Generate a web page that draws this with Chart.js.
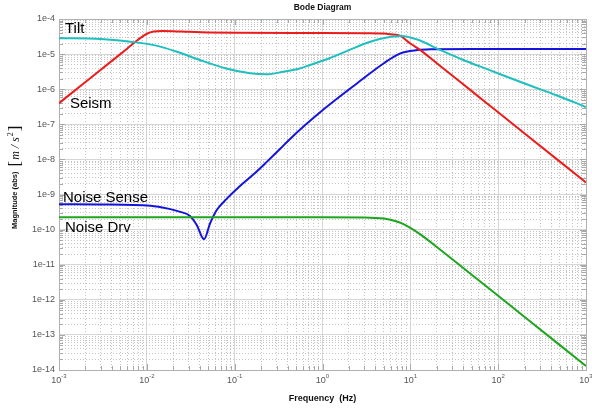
<!DOCTYPE html>
<html>
<head>
<meta charset="utf-8">
<script src="https://cdn.jsdelivr.net/npm/chart.js@4.4.1/dist/chart.umd.min.js"></script>
<style>
  html, body { margin: 0; padding: 0; background: #fff; }
</style>
</head>
<body>
<canvas id="bode" width="592" height="408"></canvas>
<script>
// axis decades and their labels
const xDecades = [0.001, 0.01, 0.1, 1, 10, 100, 1000];
const xTickExp = ['-3', '-2', '-1', '0', '1', '2', '3'];
const yDecades = [1e-4, 1e-5, 1e-6, 1e-7, 1e-8, 1e-9, 1e-10, 1e-11, 1e-12, 1e-13, 1e-14];
const yTickLabels = ['1e-4', '1e-5', '1e-6', '1e-7', '1e-8', '1e-9', '1e-10', '1e-11', '1e-12', '1e-13', '1e-14'];

const curveNames = ['Tilt', 'Seism', 'Noise Sense', 'Noise Drv'];

// Tilt (red)
const tiltFreq = [0.001, 0.002, 0.004, 0.006, 0.008, 0.01, 0.012, 0.015, 0.02, 0.03, 0.05, 0.1, 0.5, 1, 3, 5, 6, 7.7, 10, 13, 20, 50, 100, 200, 500, 1000];
const tiltMag  = [4e-7, 1.6e-6, 6.4e-6, 1.45e-5, 2.6e-5, 3.8e-5, 4.4e-5, 4.55e-5, 4.5e-5, 4.3e-5, 4.15e-5, 4.05e-5, 4e-5, 4e-5, 3.95e-5, 3.85e-5, 3.65e-5, 3.3e-5, 2.0e-5, 1.3e-5, 5.5e-6, 8.8e-7, 2.2e-7, 5.5e-8, 8.8e-9, 2.2e-9];

// Seism (cyan)
const seismFreq = [0.001, 0.003, 0.0065, 0.012, 0.022, 0.04, 0.08, 0.15, 0.23, 0.36, 0.55, 0.72, 1.2, 2, 3.5, 6, 8, 12, 22, 40, 80, 200, 470, 1000];
const seismMag  = [2.85e-5, 2.7e-5, 2.25e-5, 1.8e-5, 1.17e-5, 6.8e-6, 3.9e-6, 2.85e-6, 2.65e-6, 3.15e-6, 3.9e-6, 4.9e-6, 7.6e-6, 1.3e-5, 2.25e-5, 3.1e-5, 3.3e-5, 2.6e-5, 1.3e-5, 6.8e-6, 3.5e-6, 1.45e-6, 6.6e-7, 3.1e-7];

// Noise Sense (blue)
const senseFreq = [0.001, 0.003, 0.011, 0.018, 0.024, 0.031, 0.037, 0.0448, 0.0525, 0.0625, 0.081, 0.115, 0.163, 0.232, 0.33, 0.43, 1.0, 2.5, 5, 7.7, 12, 17, 50, 1000];
const senseMag  = [5.3e-10, 5.2e-10, 4.8e-10, 3.9e-10, 3.2e-10, 2.45e-10, 1.35e-10, 5.3e-11, 1.5e-10, 3.6e-10, 7.5e-10, 1.75e-9, 3.7e-9, 8.5e-9, 2.0e-8, 3.9e-8, 2.5e-7, 1.5e-6, 5.5e-6, 1.05e-5, 1.3e-5, 1.37e-5, 1.4e-5, 1.4e-5];

// Noise Drv (green)
const drvFreq = [0.001, 1, 3, 5, 7, 8, 10, 13, 20, 50, 100, 200, 500, 1000];
const drvMag  = [2.25e-10, 2.25e-10, 2.22e-10, 2.06e-10, 1.71e-10, 1.5e-10, 1.12e-10, 7.3e-11, 3.2e-11, 5.2e-12, 1.3e-12, 3.25e-13, 5.2e-14, 1.3e-14];

const SANS = '"Liberation Sans", Arial, sans-serif';
const SERIF = '"Liberation Serif", "Times New Roman", serif';

function isDecade(v) {
    const l = Math.log10(v);
    return Math.abs(l - Math.round(l)) < 1e-6;
}

function logTicks(lo, hi) {
    const out = [];
    for (let e = lo; e < hi; e++) {
        for (let k = 1; k <= 9; k++) out.push({ value: k * Math.pow(10, e) });
    }
    out.push({ value: Math.pow(10, hi) });
    return out;
}

function pairs(xs, ys) {
    return xs.map((f, i) => ({ x: f, y: ys[i] }));
}

// where the curve names sit (frequency, magnitude at text baseline)
const nameSpots = [[0.00117, 4e-5], [0.00133, 2.86e-7], [0.00111, 6.2e-10], [0.00117, 8.7e-11]];

const decorations = {
    id: 'decorations',
    beforeDatasetsDraw(chart) {
        const { ctx, chartArea: a, scales } = chart;
        ctx.save();
        ctx.strokeStyle = '#a8a8a8';
        ctx.lineWidth = 1;
        ctx.beginPath();
        scales.x.ticks.forEach(t => {
            const px = Math.round(scales.x.getPixelForValue(t.value)) + 0.5;
            const len = isDecade(t.value) ? 6 : 4;
            ctx.moveTo(px, a.bottom); ctx.lineTo(px, a.bottom - len);
            ctx.moveTo(px, a.top); ctx.lineTo(px, a.top + len);
        });
        scales.y.ticks.forEach(t => {
            const py = Math.round(scales.y.getPixelForValue(t.value)) + 0.5;
            const len = isDecade(t.value) ? 6 : 4;
            ctx.moveTo(a.left, py); ctx.lineTo(a.left + len, py);
            ctx.moveTo(a.right, py); ctx.lineTo(a.right - len, py);
        });
        ctx.stroke();
        ctx.strokeStyle = '#b0b0b0';
        ctx.strokeRect(Math.round(a.left) + 0.5, Math.round(a.top) + 0.5, Math.round(a.right - a.left), Math.round(a.bottom - a.top));
        ctx.restore();
    },
    afterDraw(chart) {
        const { ctx, chartArea: a, scales } = chart;
        const cx = (a.left + a.right) / 2;
        ctx.save();

        // title and x label
        ctx.fillStyle = '#111';
        ctx.textAlign = 'center';
        ctx.textBaseline = 'middle';
        ctx.font = 'bold 8.5px ' + SANS;
        ctx.fillText('Bode Diagram', cx, 8);
        ctx.font = 'bold 9px ' + SANS;
        ctx.fillText('Frequency  (Hz)', cx, 399);

        // x tick labels 10^n
        ctx.fillStyle = '#555';
        xDecades.forEach((v, i) => {
            const px = scales.x.getPixelForValue(v);
            ctx.font = '9px ' + SANS;
            const bw = ctx.measureText('10').width;
            ctx.font = '6px ' + SANS;
            const ew = ctx.measureText(xTickExp[i]).width;
            const start = px - (bw + ew) / 2;
            ctx.textAlign = 'left';
            ctx.font = '9px ' + SANS;
            ctx.fillText('10', start, 381);
            ctx.font = '6px ' + SANS;
            ctx.fillText(xTickExp[i], start + bw, 376);
        });

        // y label
        ctx.translate(15, 229);
        ctx.rotate(-Math.PI / 2);
        ctx.fillStyle = '#111';
        ctx.textAlign = 'left';
        ctx.textBaseline = 'middle';
        ctx.font = 'bold 7.5px ' + SANS;
        ctx.fillText('Magnitude (abs)', 0, 0);
        let u = ctx.measureText('Magnitude (abs)').width + 5;
        ctx.textBaseline = 'alphabetic';
        ctx.font = '17px ' + SERIF;
        ctx.fillText('[', u, 5);
        u += ctx.measureText('[').width + 1;
        ctx.font = 'italic 12px ' + SERIF;
        ctx.fillText('m / s', u, 4);
        u += ctx.measureText('m / s').width + 1;
        ctx.font = '8px ' + SERIF;
        ctx.fillText('2', u, -2);
        u += ctx.measureText('2').width + 1;
        ctx.font = '17px ' + SERIF;
        ctx.fillText(']', u, 5);
        ctx.restore();

        // curve names
        ctx.save();
        ctx.fillStyle = '#000';
        ctx.textAlign = 'left';
        ctx.textBaseline = 'alphabetic';
        ctx.font = '15px ' + SANS;
        curveNames.forEach((name, i) => {
            const px = scales.x.getPixelForValue(nameSpots[i][0]);
            const py = scales.y.getPixelForValue(nameSpots[i][1]);
            ctx.fillText(name, px, py);
        });
        ctx.restore();
    }
};

function gridColor(c) {
    if (!c.tick) return 'rgba(0,0,0,0)';
    return isDecade(c.tick.value) ? '#d6d6d6' : '#c4c4c4';
}
function gridDash(c) {
    if (!c.tick) return [];
    return isDecade(c.tick.value) ? [] : [1, 2];
}

const ctx = document.getElementById('bode').getContext('2d');

new Chart(ctx, {
    type: 'line',
    data: {
        datasets: [
            { label: curveNames[3], data: pairs(drvFreq, drvMag), borderColor: '#1ea51e' },
            { label: curveNames[1], data: pairs(seismFreq, seismMag), borderColor: '#1fbfbf' },
            { label: curveNames[0], data: pairs(tiltFreq, tiltMag), borderColor: '#ec1c1c' },
            { label: curveNames[2], data: pairs(senseFreq, senseMag), borderColor: '#1414dc' }
        ]
    },
    options: {
        responsive: false,
        animation: false,
        devicePixelRatio: 1,
        layout: { padding: { top: 19, right: 6, bottom: 0, left: 0 } },
        elements: {
            point: { radius: 0 },
            line: { borderWidth: 2, fill: false, cubicInterpolationMode: 'monotone' }
        },
        plugins: {
            legend: { display: false },
            title: { display: false },
            tooltip: { enabled: false }
        },
        scales: {
            x: {
                type: 'logarithmic',
                min: 0.001,
                max: 1000,
                afterBuildTicks: s => { s.ticks = logTicks(-3, 3); },
                afterFit: s => { s.height = 38; },
                ticks: { display: false, autoSkip: false },
                grid: { color: gridColor, lineWidth: 1, drawTicks: false },
                border: { display: false, dash: gridDash }
            },
            y: {
                type: 'logarithmic',
                min: 1e-14,
                max: 1e-4,
                afterBuildTicks: s => { s.ticks = logTicks(-14, -4); },
                afterFit: s => { s.width = 59; },
                ticks: {
                    autoSkip: false,
                    padding: 4,
                    color: '#555',
                    font: { size: 9, family: SANS },
                    callback: v => {
                        if (!isDecade(v)) return '';
                        const i = yDecades.findIndex(d => Math.abs(Math.log10(d) - Math.log10(v)) < 1e-6);
                        return i >= 0 ? yTickLabels[i] : '';
                    }
                },
                grid: { color: gridColor, lineWidth: 1, drawTicks: false },
                border: { display: false, dash: gridDash }
            }
        }
    },
    plugins: [decorations]
});
</script>
</body>
</html>
